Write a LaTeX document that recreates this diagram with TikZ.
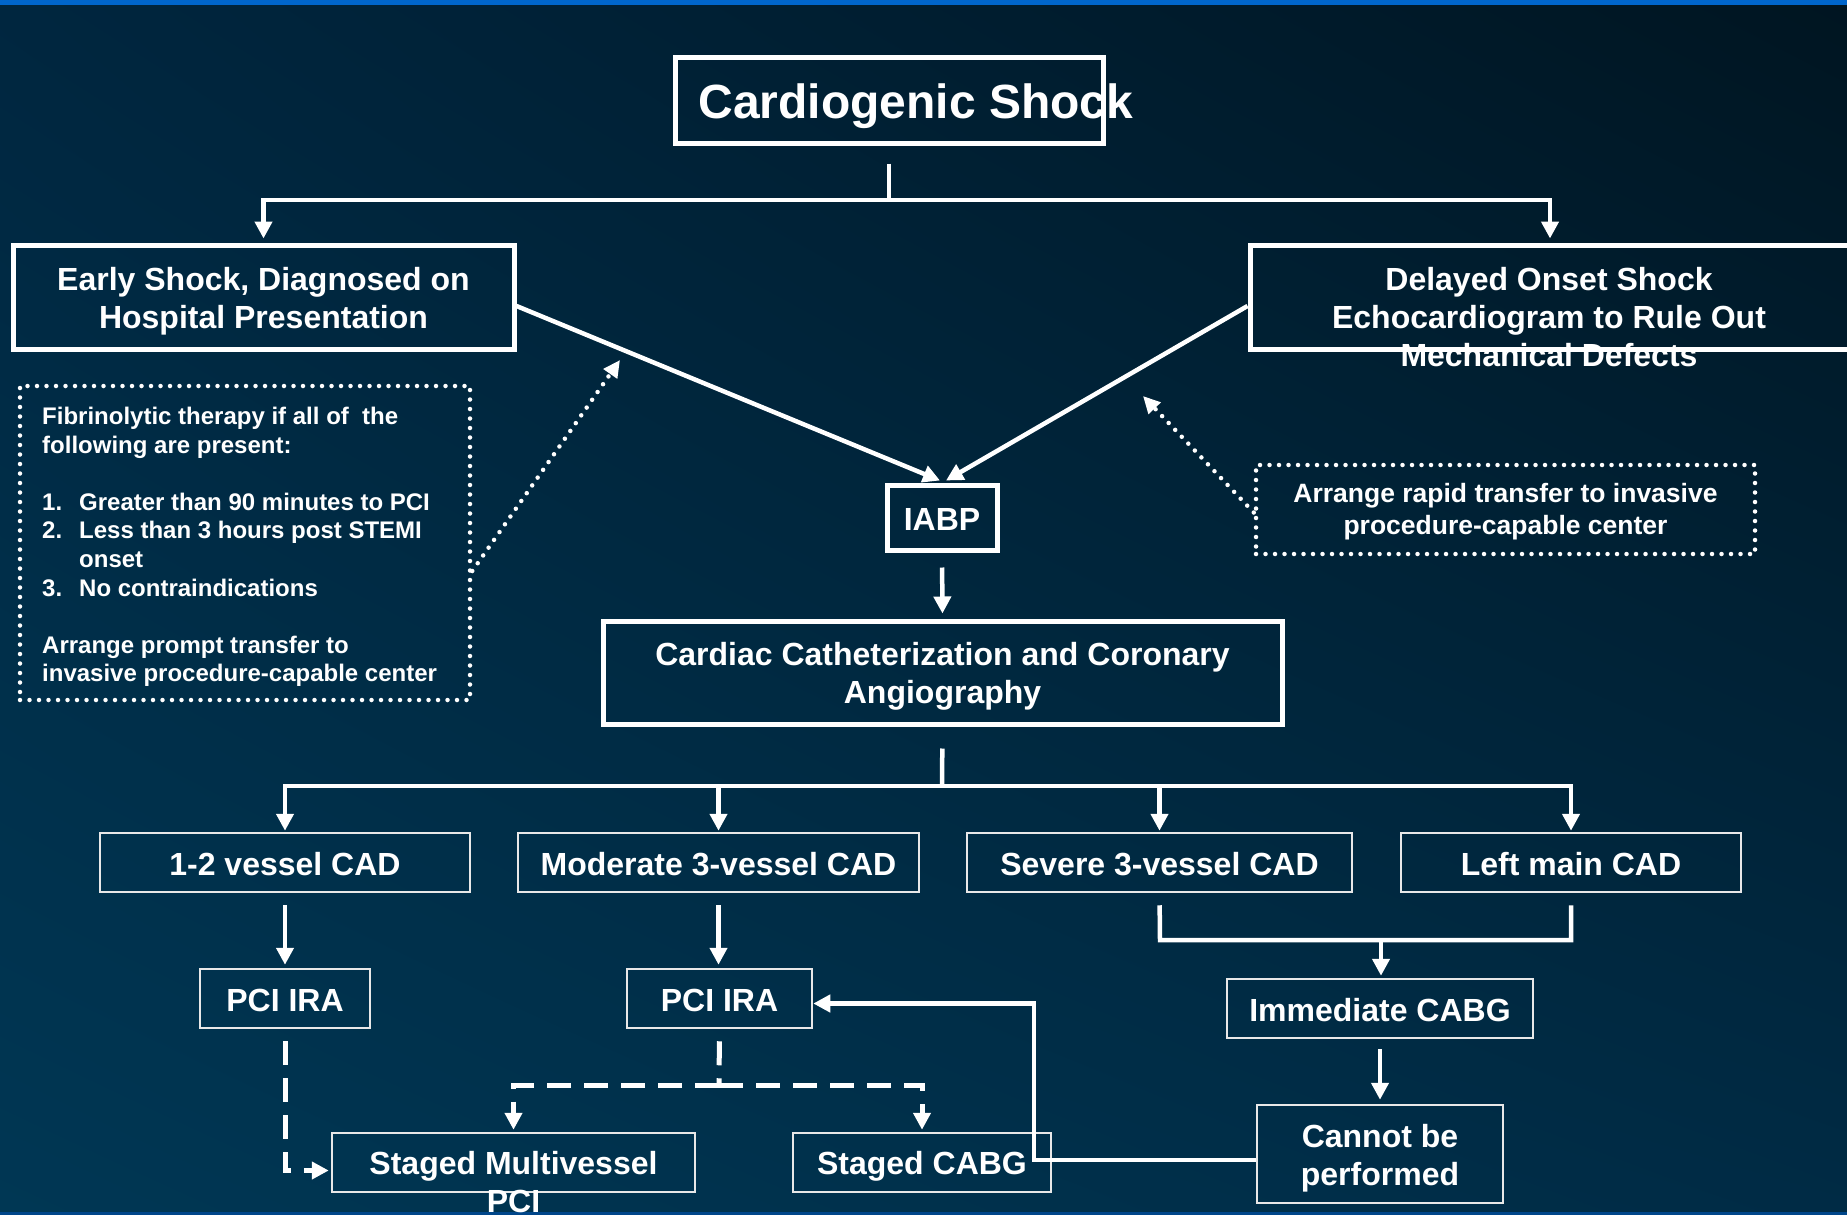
\documentclass[tikz,border=0pt]{standalone}
\usepackage{fontspec}
\setmainfont{Liberation Sans}
\usetikzlibrary{arrows.meta,calc,shadings}
\definecolor{bgUL}{HTML}{00263F}
\definecolor{bgUR}{HTML}{001521}
\definecolor{bgLL}{HTML}{003754}
\definecolor{bgLR}{HTML}{002B45}
\definecolor{topbar}{HTML}{0066CC}
\definecolor{botbar}{HTML}{00468A}
\definecolor{thinline}{HTML}{E8E8E8}
\newcommand{\fstrut}[1]{\rule{0pt}{#1}}
\newcommand{\lstrut}[1]{\rule[-#1]{0pt}{#1}}
\begin{document}
\begin{tikzpicture}[x=1pt,y=-1pt,
  pptstrut/.style={execute at begin node={\rule{0pt}{31pt}}, execute at end node={\rule[-5pt]{0pt}{5pt}}},
  bigbox/.style={draw=white, line width=5pt, inner sep=0pt, text=white, align=center,
    font=\bfseries\fontsize{32}{38}\selectfont, pptstrut},
  smallbox/.style={draw=thinline, line width=2.5pt, inner sep=0pt, text=white, align=center,
    font=\bfseries\fontsize{32}{38}\selectfont, pptstrut},
  dotbox/.style={draw=white, line width=4.5pt, dash pattern=on 0pt off 9.5pt, line cap=round, inner sep=0pt, text=white},
  txtbig/.style={text=white, inner sep=0pt, align=center, font=\bfseries\fontsize{48}{56}\selectfont},
  txtmid/.style={text=white, inner sep=0pt, align=center, font=\bfseries\fontsize{32}{38}\selectfont},
  conn/.style={draw=white, line width=4.5pt},
  tipA/.style={-{Triangle[length=17pt,width=17pt]}},
  arr/.style={conn, tipA},
  dashconn/.style={conn, line width=5pt, dash pattern=on 24pt off 13pt},
  dasharr/.style={dashconn, tipA},
  dotarr/.style={draw=white, line width=4.5pt, dash pattern=on 0pt off 9.5pt, line cap=round, -{Triangle[length=17pt,width=16pt]}}
]
% background
\useasboundingbox (0,0) rectangle (1847,1215);
\shade[upper left=bgUL, upper right=bgUR, lower left=bgLL, lower right=bgLR] (0,0) rectangle (1847,1215);
\fill[topbar] (0,0) rectangle (1847,5);
\fill[botbar] (0,1212) rectangle (1847,1215);

% top box
\node[bigbox, minimum width=428pt, minimum height=85pt] (title) at (889,100.5) {};
\node[txtbig] (titletext) at (916,106) {Cardiogenic Shock};

% second row
\node[bigbox, minimum width=501pt, minimum height=104pt] (early) at (263.5,297)
  {\fstrut{31pt}Early Shock, Diagnosed on\\Hospital Presentation\lstrut{5pt}};
\node[bigbox, minimum width=600pt, minimum height=104pt] (delayed) at (1550,297) {};
\node[txtmid] (delayedtext) at (1549,317)
  {Delayed Onset Shock\\Echocardiogram to Rule Out\\Mechanical Defects};

% dotted boxes
\node[dotbox, minimum width=450pt, minimum height=314pt] (dotL) at (245,543) {};
\node[text=white, inner sep=0pt, anchor=north west, align=left,
      font=\bfseries\fontsize{24}{28.6}\selectfont] (dotLtext) at (42,407)
  {Fibrinolytic therapy if all of\ \ the\\
   following are present:\\
   \mbox{}\\
   \makebox[37pt][l]{1.}Greater than 90 minutes to PCI\\
   \makebox[37pt][l]{2.}Less than 3 hours post STEMI\\
   \hspace*{37pt}onset\\
   \makebox[37pt][l]{3.}No contraindications\\
   \mbox{}\\
   Arrange prompt transfer to\\
   invasive procedure-capable center};
\node[dotbox, minimum width=499pt, minimum height=89pt, align=center,
      font=\bfseries\fontsize{26.5}{32}\selectfont] (dotR) at (1505.5,509.5)
  {\fstrut{24pt}Arrange rapid transfer to invasive\\procedure-capable center\lstrut{4pt}};

% IABP and cath
\node[bigbox, minimum width=110pt, minimum height=65pt] (iabp) at (942,517.5) {IABP};
\node[bigbox, minimum width=679pt, minimum height=103pt] (cath) at (942.5,672.5)
  {\fstrut{31pt}Cardiac Catheterization and Coronary\\Angiography\lstrut{5pt}};

% CAD row
\node[smallbox, minimum width=370pt, minimum height=59pt] (v12) at (285,862.5) {1-2 vessel CAD};
\node[smallbox, minimum width=401pt, minimum height=59pt] (mod) at (718.5,862.5) {Moderate 3-vessel CAD};
\node[smallbox, minimum width=385pt, minimum height=59pt] (sev) at (1159.5,862.5) {Severe 3-vessel CAD};
\node[smallbox, minimum width=340pt, minimum height=59pt] (lm) at (1571,862.5) {Left main CAD};

% next row
\node[smallbox, minimum width=170pt, minimum height=59pt] (pci1) at (285,998.5) {PCI IRA};
\node[smallbox, minimum width=185pt, minimum height=59pt] (pci2) at (719.5,998.5) {PCI IRA};
\node[smallbox, minimum width=306pt, minimum height=59pt] (imm) at (1380,1008.5) {Immediate CABG};
\node[smallbox, minimum width=246pt, minimum height=98pt] (cannot) at (1380,1154)
  {\fstrut{31pt}Cannot be\\performed\lstrut{5pt}};

% bottom row
\node[smallbox, minimum width=363pt, minimum height=59pt] (smv) at (513.5,1162.5) {};
\node[txtmid] (smvtext) at (513.5,1182) {Staged Multivessel\\PCI};
\node[smallbox, minimum width=258pt, minimum height=59pt] (scabg) at (922,1162.5) {Staged CABG};

% junction coordinates
\coordinate (j1) at (889,200);
\coordinate (j2) at (942,786);
\coordinate (j3) at (1160,940);
\coordinate (j4) at (1571,940);
\coordinate (jm) at (1381,940);
\coordinate (k1) at (1034,1160);
\coordinate (j5) at (719,1085);
\coordinate (dlEnd) at (620,360);
\coordinate (drEnd) at (1143,396);

% connectors top
\draw[conn, shorten <=18pt] (title.south) -- (j1);
\draw[arr, shorten >=4pt] (j1) -| (early.north);
\draw[arr, shorten >=4pt] (j1) -| (delayed.north);
\draw[arr] ([yshift=-9pt]early.east) -- ([xshift=-2pt,yshift=2pt]iabp.north);
\draw[arr] ([yshift=-9pt]delayed.west) -- ([xshift=4pt,yshift=2pt]iabp.north);
\draw[arr, shorten <=15pt, shorten >=5pt] (iabp.south) -- (cath.north);

% dotted arrows
\draw[dotarr] ([yshift=-28pt]dotL.east) -- (dlEnd);
\draw[dotarr] ([yshift=-3pt]dotR.west) -- (drEnd);

% from cath to CAD row
\draw[conn, shorten <=22pt] (cath.south) -- (j2);
\draw[arr, shorten >=1pt] (j2) -| (v12.north);
\draw[arr, shorten >=1pt] (j2) -| (mod.north);
\draw[arr, shorten >=1pt] (j2) -| (sev.north);
\draw[arr, shorten >=1pt] (j2) -| (lm.north);

% CAD -> next
\draw[arr, shorten <=12pt, shorten >=3pt] (v12.south) -- (v12.south |- pci1.north);
\draw[arr, shorten <=12pt, shorten >=3pt] (mod.south) -- (mod.south |- pci2.north);
\draw[conn, shorten <=12pt, shorten >=12pt] (sev.south) -- (j3) -- (j4) -- (lm.south);
\draw[arr, shorten >=2pt] (jm) -- (jm |- imm.north);
\draw[arr, shorten <=10pt, shorten >=4pt] (imm.south) -- (imm.south |- cannot.north);

% cannot -> pci2
\draw[arr] ([yshift=-6pt]cannot.west) -- (k1) |- ([yshift=-5pt]pci2.east);

% dashed
\draw[dasharr, shorten <=12pt, shorten >=2pt] (pci1.south) |- ([yshift=-8pt]smv.west);
\draw[dashconn, shorten <=12pt] (pci2.south) -- (j5);
\draw[dasharr, shorten >=2pt] (j5) -| (smv.north);
\draw[dasharr, shorten >=2pt] (j5) -| (scabg.north);
\end{tikzpicture}
\end{document}
